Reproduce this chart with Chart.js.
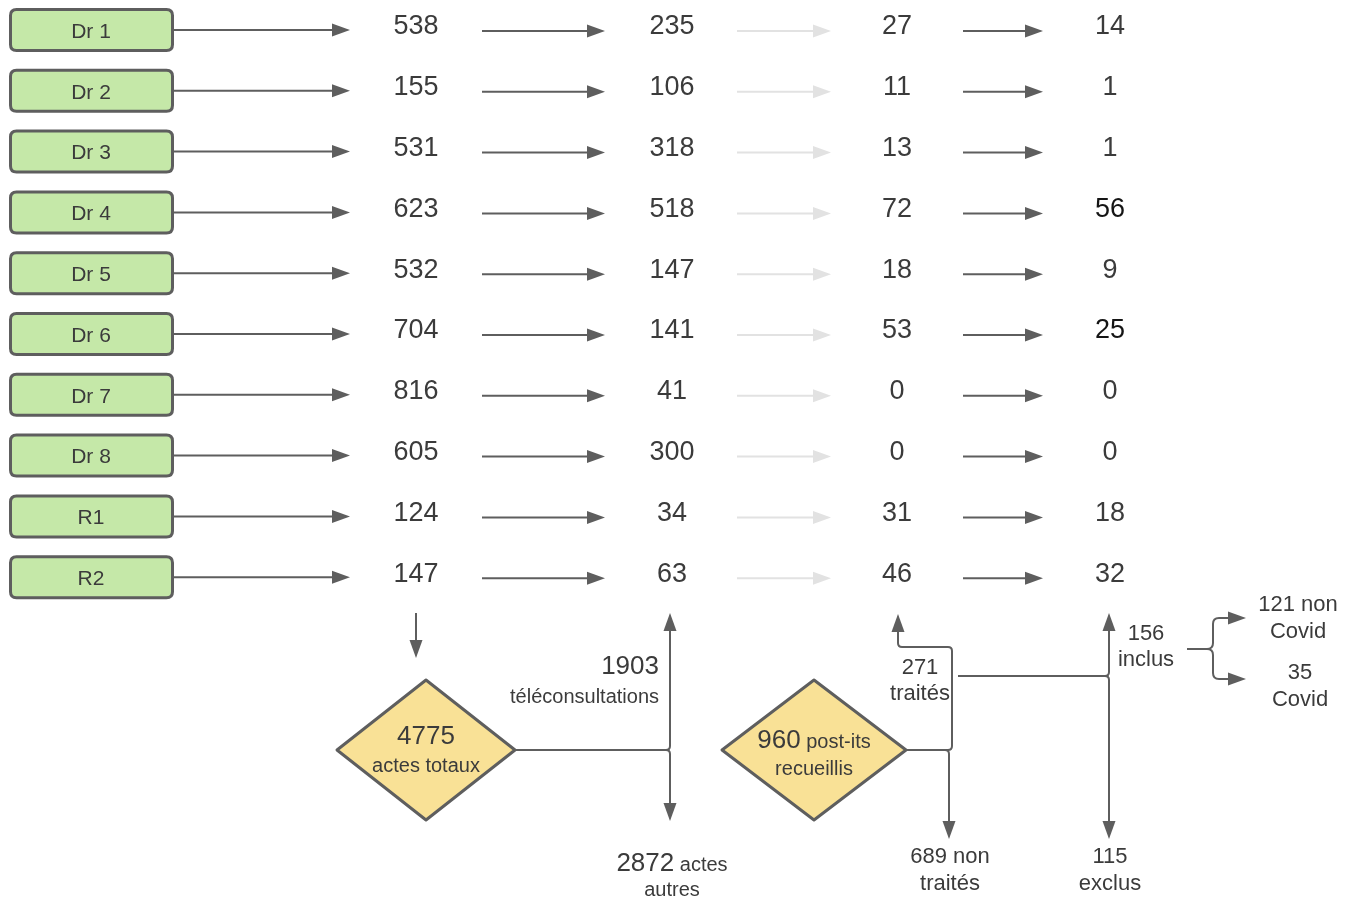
<!DOCTYPE html>
<html><head><meta charset="utf-8">
<script src="https://cdn.jsdelivr.net/npm/chart.js@4.4.1/dist/chart.umd.min.js"></script>
<style>html,body{margin:0;padding:0;background:#fff;overflow:hidden}#wrap{width:1356px;height:900px}</style>
</head><body><div id="wrap"><canvas id="c" width="1356" height="900"></canvas></div>
<script>
// ---- data ----
const rowLabels = ['Dr 1','Dr 2','Dr 3','Dr 4','Dr 5','Dr 6','Dr 7','Dr 8','R1','R2'];
const actesTotaux = [538,155,531,623,532,704,816,605,124,147];
const teleconsultations = [235,106,318,518,147,141,41,300,34,63];
const postIts = [27,11,13,72,18,53,0,0,31,46];
const patientsInclus = [14,1,1,56,9,25,0,0,18,32];
const totalActes = 4775, totalTele = 1903, totalAutres = 2872;
const totalPostIts = 960, totalTraites = 271, totalNonTraites = 689;
const totalInclus = 156, totalExclus = 115, totalNonCovid = 121, totalCovid = 35;

// ---- layout / style ----
const ROW0 = 30, ROWSTEP = 60.8;
const COLX = [416, 672, 897, 1110];
const DARK = '#5e5e5e', LIGHT = '#e2e2e2', TXT = '#3b3b3b';
const FONT = '"Liberation Sans", Arial, sans-serif';

const flowPlugin = {
  id: 'flow',
  afterDraw(chart) {
    const ctx = chart.ctx, xs = chart.scales.x, ys = chart.scales.y;
    const X = v => xs.getPixelForValue(v), Y = v => ys.getPixelForValue(v);
    const rowY = i => ROW0 + i * ROWSTEP;

    function head(x, y, dir, color) {
      const L = 18, W = 6.5;
      ctx.fillStyle = color;
      ctx.beginPath();
      if (dir === 'r') { ctx.moveTo(X(x), Y(y)); ctx.lineTo(X(x - L), Y(y) - W); ctx.lineTo(X(x - L), Y(y) + W); }
      if (dir === 'u') { ctx.moveTo(X(x), Y(y)); ctx.lineTo(X(x) - W, Y(y + L)); ctx.lineTo(X(x) + W, Y(y + L)); }
      if (dir === 'd') { ctx.moveTo(X(x), Y(y)); ctx.lineTo(X(x) - W, Y(y - L)); ctx.lineTo(X(x) + W, Y(y - L)); }
      ctx.closePath(); ctx.fill();
    }
    function path(pts, color, w) {
      ctx.strokeStyle = color; ctx.lineWidth = w || 2; ctx.lineJoin = 'round'; ctx.lineCap = 'butt';
      ctx.beginPath();
      ctx.moveTo(X(pts[0][0]), Y(pts[0][1]));
      for (let i = 1; i < pts.length; i++) {
        const p = pts[i];
        if (p.length === 4) ctx.quadraticCurveTo(X(p[0]), Y(p[1]), X(p[2]), Y(p[3]));
        else ctx.lineTo(X(p[0]), Y(p[1]));
      }
      ctx.stroke();
    }
    function hArrow(x1, x2, y, color) {
      path([[x1, y], [x2 - 16, y]], color, 2);
      head(x2, y, 'r', color);
    }
    function text(str, x, y, size, align, color) {
      ctx.font = size + 'px ' + FONT;
      ctx.fillStyle = color || TXT;
      ctx.textAlign = align || 'center';
      ctx.textBaseline = 'middle';
      ctx.fillText(str, X(x), Y(y));
    }
    function mixed(parts, x, y) { // parts: [str,size]
      let total = 0;
      parts.forEach(p => { ctx.font = p[1] + 'px ' + FONT; total += ctx.measureText(p[0]).width; });
      let cx = X(x) - total / 2;
      parts.forEach(p => {
        ctx.font = p[1] + 'px ' + FONT; ctx.fillStyle = TXT; ctx.textAlign = 'left'; ctx.textBaseline = 'alphabetic';
        ctx.fillText(p[0], cx, Y(y)); cx += ctx.measureText(p[0]).width;
      });
    }
    function rrect(x, y, w, h, r) {
      const x0 = X(x), y0 = Y(y), x1 = X(x + w), y1 = Y(y + h);
      ctx.beginPath();
      ctx.moveTo(x0 + r, y0); ctx.lineTo(x1 - r, y0); ctx.quadraticCurveTo(x1, y0, x1, y0 + r);
      ctx.lineTo(x1, y1 - r); ctx.quadraticCurveTo(x1, y1, x1 - r, y1);
      ctx.lineTo(x0 + r, y1); ctx.quadraticCurveTo(x0, y1, x0, y1 - r);
      ctx.lineTo(x0, y0 + r); ctx.quadraticCurveTo(x0, y0, x0 + r, y0); ctx.closePath();
    }
    function diamond(cx, cy, hw, hh) {
      ctx.beginPath();
      ctx.moveTo(X(cx), Y(cy - hh)); ctx.lineTo(X(cx + hw), Y(cy));
      ctx.lineTo(X(cx), Y(cy + hh)); ctx.lineTo(X(cx - hw), Y(cy)); ctx.closePath();
      ctx.fillStyle = '#f9e196'; ctx.fill();
      ctx.strokeStyle = DARK; ctx.lineWidth = 3; ctx.lineJoin = 'round'; ctx.stroke();
    }

    // rows
    rowLabels.forEach((lab, i) => {
      const y = rowY(i);
      rrect(10.5, y - 20.5, 162, 41, 6);
      ctx.fillStyle = '#c5e8a8'; ctx.fill();
      ctx.strokeStyle = DARK; ctx.lineWidth = 3; ctx.stroke();
      text(lab, 91, y + 2, 21);
      hArrow(173, 350, y, DARK);
      text(String(actesTotaux[i]), COLX[0], y - 3, 27);
      hArrow(482, 605, y + 1, DARK);
      text(String(teleconsultations[i]), COLX[1], y - 3, 27);
      hArrow(737, 831, y + 1, LIGHT);
      text(String(postIts[i]), COLX[2], y - 3, 27);
      hArrow(963, 1043, y + 1, DARK);
      text(String(patientsInclus[i]), COLX[3], y - 3, 27, 'center', (i === 3 || i === 5) ? '#151515' : TXT);
    });

    // actes totaux branch
    path([[416, 613], [416, 642]], DARK, 2); head(416, 658, 'd', DARK);
    diamond(426, 750, 89, 70);
    mixed([[String(totalActes), 26]], 426, 744);
    mixed([['actes totaux', 20]], 426, 772);
    path([[515, 750], [666, 750], [670, 750, 670, 746], [670, 630]], DARK, 2); head(670, 613, 'u', DARK);
    path([[666, 750], [670, 750, 670, 754], [670, 804]], DARK, 2); head(670, 821, 'd', DARK);
    text(String(totalTele), 659, 667, 26, 'right');
    text('téléconsultations', 659, 697, 20, 'right');
    mixed([[String(totalAutres), 26], [' actes', 20]], 672, 871);
    text('autres', 672, 890, 20);

    // post-its branch
    diamond(814, 750, 92, 70);
    mixed([[String(totalPostIts), 26], [' post-its', 20]], 814, 748);
    text('recueillis', 814, 769, 20);
    path([[905, 750], [948, 750], [952, 750, 952, 746], [952, 651], [952, 647, 948, 647], [902, 647], [898, 647, 898, 643], [898, 631]], DARK, 2);
    head(898, 614, 'u', DARK);
    path([[945, 750], [949, 750, 949, 754], [949, 822]], DARK, 2); head(949, 839, 'd', DARK);
    text(String(totalTraites), 920, 668, 22);
    text('traités', 920, 694, 22);
    text(totalNonTraites + ' non', 950, 857, 22);
    text('traités', 950, 884, 22);

    // inclus / exclus
    path([[958, 676], [1105, 676], [1109, 676, 1109, 672], [1109, 630]], DARK, 2); head(1109, 613, 'u', DARK);
    path([[1105, 676], [1109, 676, 1109, 680], [1109, 822]], DARK, 2); head(1109, 839, 'd', DARK);
    text(String(totalExclus), 1110, 857, 22);
    text('exclus', 1110, 884, 22);
    text(String(totalInclus), 1146, 634, 22);
    text('inclus', 1146, 660, 22);

    // covid split
    path([[1187, 649], [1207, 649], [1213, 649, 1213, 643], [1213, 624], [1213, 618, 1219, 618], [1230, 618]], DARK, 2);
    head(1246, 618, 'r', DARK);
    path([[1207, 649], [1213, 649, 1213, 655], [1213, 673], [1213, 679, 1219, 679], [1230, 679]], DARK, 2);
    head(1246, 679, 'r', DARK);
    text(totalNonCovid + ' non', 1298, 605, 22);
    text('Covid', 1298, 632, 22);
    text(String(totalCovid), 1300, 673, 22);
    text('Covid', 1300, 700, 22);
  }
};

new Chart(document.getElementById('c'), {
  type: 'scatter',
  data: { datasets: [{ data: rowLabels.map((l, i) => ({ x: 91, y: ROW0 + i * ROWSTEP })), pointRadius: 0 }] },
  options: {
    responsive: false, animation: false,
    layout: { padding: 0 },
    plugins: { legend: { display: false }, tooltip: { enabled: false } },
    scales: {
      x: { type: 'linear', min: 0, max: 1356, display: false },
      y: { type: 'linear', min: 0, max: 900, reverse: true, display: false }
    }
  },
  plugins: [flowPlugin]
});
</script>
</body></html>
